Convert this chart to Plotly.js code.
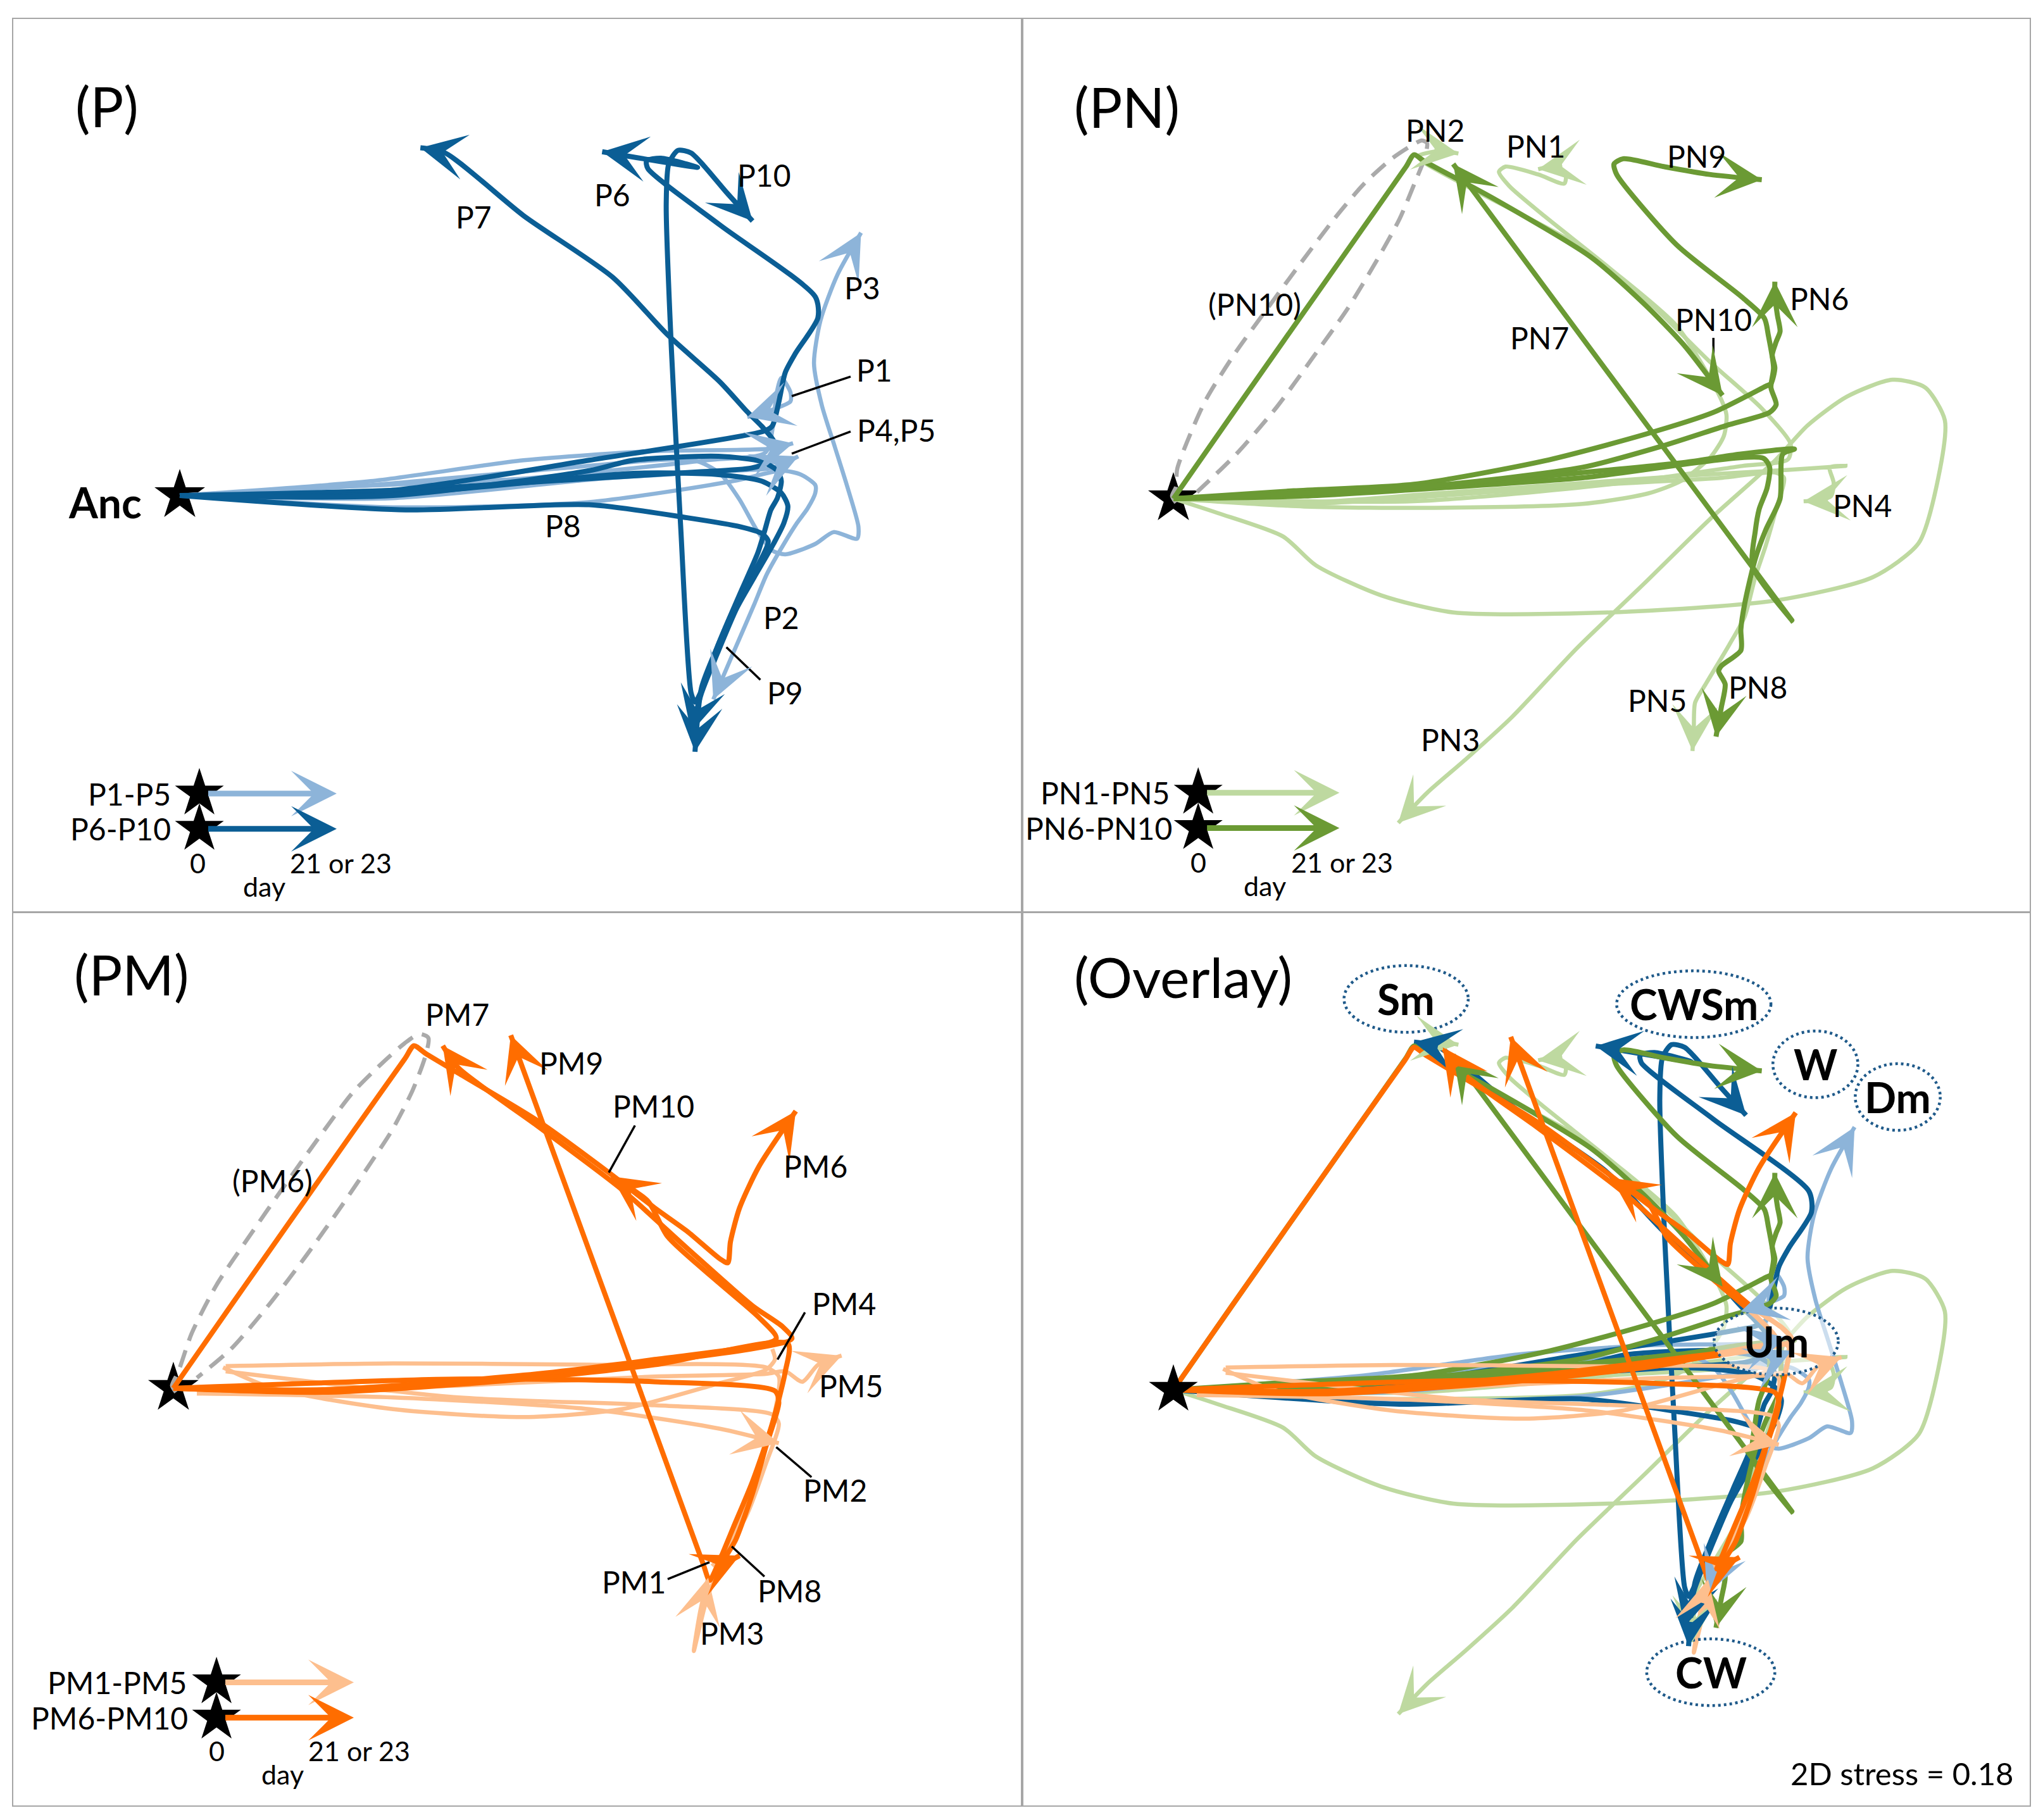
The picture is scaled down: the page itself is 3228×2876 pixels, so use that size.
<!DOCTYPE html>
<html><head><meta charset="utf-8">
<script src="https://cdn.plot.ly/plotly-3.0.1.min.js"></script>
<style>html,body{margin:0;padding:0;background:#fff}#chart{width:3228px;height:2876px}</style>
</head><body><div id="chart"></div>
<script>
// ---------- DATA: NMDS trajectories (relative to ancestor, arbitrary units) ----------
const P1 = [[0,0],[106,6],[263,13],[403,27],[448,33],[454,56],[456,76],[460,90],[467,79],[467,72],[454,66],[434,60]];
const P2 = [[0,0],[163,-9],[313,-5],[423,11],[460,19],[475,16],[486,8],[486,2],[480,-10],[472,-21],[462,-37],[449,-60],[439,-84],[423,-121],[408,-156]];
const P3 = [[0,0],[146,8],[293,21],[393,27],[413,17],[428,-3],[441,-26],[453,-42],[463,-45],[486,-37],[500,-28],[518,-33],[519,-24],[511,5],[501,37],[491,69],[485,101],[490,134],[503,169],[521,201]];
const P4 = [[0,0],[146,11],[263,27],[363,34],[453,36],[469,40]];
const P5 = [[0,0],[163,-2],[323,13],[423,19],[453,21],[473,30]];
const P6 = [[0,0],[163,4],[313,27],[446,49],[453,53],[458,71],[463,94],[471,109],[488,136],[486,152],[413,207],[358,250],[357,256],[368,258],[396,251],[323,263]];
const P7 = [[0,0],[163,4],[313,13],[396,18],[437,21],[452,26],[455,32],[454,42],[445,53],[434,64],[413,87],[373,123],[331,167],[263,214],[203,262],[184,266]];
const P8 = [[0,0],[173,-11],[313,-7],[388,-17],[429,-24],[445,-29],[450,-35],[438,-61],[424,-86],[411,-116],[399,-147],[394,-196]];
const P9 = [[0,0],[163,1],[347,17],[412,16],[445,11],[460,2],[465,-8],[462,-21],[454,-37],[439,-63],[426,-86],[411,-121],[399,-151],[391,-181]];
const P10 = [[0,0],[163,0],[313,19],[347,27],[412,30],[445,26],[457,19],[460,11],[457,-2],[452,-11],[447,-28],[442,-44],[428,-76],[411,-116],[399,-149],[394,-158],[391,-151],[383,-23],[376,111],[372,223],[374,254],[381,264],[391,262],[401,252],[418,232],[438,210]];

const PN1 = [[0,0],[100,-6],[200,-7],[313,-4],[363,4],[389,14],[411,32],[421,48],[423,64],[417,80],[385,132],[334,176],[284,216],[257,239],[249,250],[254,254],[279,248],[299,241],[300,248],[292,254],[279,252]];
const PN2 = [[0,0],[184,-2],[334,11],[435,25],[470,30],[472,42],[450,69],[410,105],[365,149],[309,194],[234,234],[192,257],[187,262],[204,266],[218,264]];
const PN3 = [[0,0],[34,-11],[84,-29],[109,-51],[159,-74],[214,-87],[334,-87],[460,-78],[535,-60],[570,-34],[585,16],[590,60],[575,85],[550,91],[515,78],[485,56],[460,29],[410,-16],[360,-65],[309,-114],[259,-167],[224,-199],[194,-225],[172,-248]];
const PN4 = [[0,0],[100,-3],[200,4],[313,12],[400,18],[470,22],[514,25],[502,24],[505,12],[503,2],[495,-1],[482,-2]];
const PN5 = [[0,0],[100,-4],[200,2],[313,10],[420,16],[460,20],[467,16],[461,-8],[453,-36],[445,-60],[437,-90],[425,-112],[407,-142],[399,-156],[398,-176],[397,-193]];
const PN6 = [[0,0],[92,6],[184,11],[284,29],[360,49],[413,66],[453,86],[457,88],[460,100],[458,110],[461,120],[464,128],[462,140],[460,155],[460,166]];
const PN7 = [[0,0],[100,2],[200,8],[313,16],[451,31],[456,24],[454,8],[448,-8],[445,-25],[443,-52],[473,-93],[214,256]];
const PN8 = [[0,0],[100,4],[200,10],[313,20],[393,28],[433,34],[475,38],[466,34],[464,0],[453,-24],[445,-46],[437,-80],[434,-100],[434,-116],[419,-128],[417,-132],[422,-142],[419,-160],[415,-182]];
const PN9 = [[0,0],[100,4],[200,10],[313,24],[373,40],[423,56],[456,66],[461,72],[457,85],[459,100],[455,125],[452,138],[435,154],[385,194],[339,248],[337,256],[344,260],[375,254],[410,248],[450,244]];
const PN10 = [[0,0],[46,66],[138,197],[178,254],[184,263],[192,258],[244,230],[319,185],[360,149],[390,118],[420,79]];
const PN10_implied = [[2,-3],[-1,2],[2,9],[3,23],[24,74],[47,111],[73,147],[98,181],[123,214],[146,241],[167,260],[182,270],[190,274],[194,272],[192,260],[186,245],[173,214],[156,183],[133,145],[106,107],[79,70],[48,34],[18,5]];

const PM1 = [[40,13],[218,-7],[368,-13],[458,-20],[463,-27],[453,-58],[438,-98],[418,-129],[412,-136]];
const PM2 = [[18,-4],[168,-7],[318,-16],[418,-31],[463,-42]];
const PM3 = [[40,17],[168,19],[318,18],[453,16],[463,9],[460,-18],[448,-58],[428,-112],[408,-161],[398,-201],[403,-170],[409,-145]];
const PM4 = [[38,16],[76,0],[168,-16],[268,-22],[343,-16],[418,4],[453,14],[460,22],[458,30]];
const PM5 = [[18,-4],[218,2],[368,9],[453,11],[468,13],[481,5],[493,18],[511,25]];
const PM6 = [[0,0],[46,66],[138,197],[177,252],[184,262],[193,256],[218,241],[278,205],[333,165],[368,138],[393,120],[418,99],[424,96],[426,112],[433,138],[448,170],[476,212]];
const PM7 = [[0,0],[118,-2],[268,9],[368,20],[473,38],[466,47],[443,63],[393,107],[343,152],[278,201],[218,245],[206,262]];
const PM8 = [[0,0],[218,7],[368,5],[460,-2],[463,-11],[453,-45],[443,-80],[430,-116],[420,-134],[433,-128]];
const PM9 = [[0,0],[118,-3],[268,7],[368,18],[470,34],[468,13],[458,-27],[443,-71],[428,-107],[415,-138],[410,-147],[405,-134],[258,270]];
const PM10 = [[0,0],[118,-1],[268,10],[368,22],[461,38],[448,54],[418,80],[378,116],[363,143],[335,162]];
const PM6_implied = [[2,-3],[-1,2],[2,9],[5,16],[14,42],[33,79],[60,119],[85,155],[110,190],[137,226],[160,249],[177,264],[188,271],[195,268],[193,255],[183,228],[167,197],[152,174],[129,140],[102,102],[74,65],[45,31],[18,8]];

const P_NAMES = ['P1','P2','P3','P4','P5','P6','P7','P8','P9','P10'];
const PN_NAMES = ['PN1','PN2','PN3','PN4','PN5','PN6','PN7','PN8','PN9','PN10'];
const PM_NAMES = ['PM1','PM2','PM3','PM4','PM5','PM6','PM7','PM8','PM9','PM10'];
const LEGEND_TEXT = {P:['P1-P5','P6-P10'], PN:['PN1-PN5','PN6-PN10'], PM:['PM1-PM5','PM6-PM10']};
const STATES = ['Sm','CWSm','W','Dm','Um','CW'];
const STRESS = 0.18;

// ---------- STYLE / LAYOUT ----------
const FONT = 'Lato, "Noto Sans", "DejaVu Sans", sans-serif';
const SERIES = {
  P:  {light:[P1,P2,P3,P4,P5],      dark:[P6,P7,P8,P9,P10],      cl:'#8db4d9', cd:'#0b5e95'},
  PN: {light:[PN1,PN2,PN3,PN4,PN5], dark:[PN6,PN7,PN8,PN9,PN10], cl:'#bed9a0', cd:'#6b9a34'},
  PM: {light:[PM1,PM2,PM3,PM4,PM5], dark:[PM6,PM7,PM8,PM9,PM10], cl:'#fdbf8e', cd:'#ff6d00'}
};
const LW_L = 6.5, LW_D = 8, HEAD = 12;

const traces = [], annotations = [], shapes = [];

function addLine(pts, axn, color, width, dash){
  traces.push({type:'scatter', mode:'lines', x:pts.map(p=>p[0]), y:pts.map(p=>p[1]),
    xaxis:'x'+axn, yaxis:'y'+axn, hoverinfo:'skip',
    line:{color:color, width:width, shape:'spline', smoothing:0.7, dash:dash||'solid'}});
}
function addArrow(pts, axn, color, width){
  const n = pts.length, a = pts[n-2], b = pts[n-1];
  const dx = b[0]-a[0], dy = b[1]-a[1], L = Math.hypot(dx,dy), t = Math.min(L,12)/L;
  annotations.push({x:b[0], y:b[1], ax:b[0]-dx*t, ay:b[1]-dy*t,
    xref:'x'+axn, yref:'y'+axn, axref:'x'+axn, ayref:'y'+axn,
    text:'', showarrow:true, arrowhead:3, arrowsize:HEAD/width, arrowwidth:width,
    arrowcolor:color, standoff:0});
}
function addTraj(pts, axn, color, width){ addLine(pts, axn, color, width); addArrow(pts, axn, color, width); }
function addStar(axn, x, y, size){
  traces.push({type:'scatter', mode:'markers', x:[x], y:[y], xaxis:'x'+axn, yaxis:'y'+axn,
    hoverinfo:'skip', marker:{symbol:'star', size:size, color:'#000', line:{width:0}}});
}
function addText(s, x, y, axn, size, opt){
  opt = opt || {};
  annotations.push({x:x, y:y, xref:'x'+axn, yref:'y'+axn, text:s, showarrow:false,
    xanchor:opt.xanchor||'center', yanchor:'middle',
    font:{family:FONT, size:size, color:'#000', weight:opt.bold?'bold':'normal'}});
}
function addLeader(x0,y0,x1,y1,axn){
  shapes.push({type:'line', xref:'x'+axn, yref:'y'+axn, x0:x0, y0:y0, x1:x1, y1:y1,
    line:{color:'#000', width:3.5}});
}
function addLegend(key, axn, sx, tip, y1, y2, labX, yText, x0, x21){
  const s = SERIES[key];
  [[y1,s.cl],[y2,s.cd]].forEach(([yy,c],i)=>{
    annotations.push({x:tip, y:yy, ax:sx+6, ay:yy, xref:'x'+axn, yref:'y'+axn, axref:'x'+axn, ayref:'y'+axn,
      text:'', showarrow:true, arrowhead:3, arrowsize:HEAD/9, arrowwidth:9, arrowcolor:c, standoff:0});
    addText(LEGEND_TEXT[key][i], labX[i], yy, axn, 48, {xanchor:'right'});
  });
  addStar(axn, sx, y1, 58); addStar(axn, sx, y2, 58);
  addText('0', x0, yText, axn, 43);
  addText('21 or 23', x21, yText, axn, 43);
  addText('day', (x0+x21)/2 - 4, yText-18, axn, 43);
}
function drawGroup(key, axn, which){
  const s = SERIES[key];
  if(which!=='dark') s.light.forEach(p=>addTraj(p, axn, s.cl, LW_L));
  if(which!=='light') s.dark.forEach(p=>addTraj(p, axn, s.cd, LW_D));
}
const DASH = {color:'#aaaaaa', width:6.5, dash:'28px,16px'};

// ----- Panel P (axis '') -----
addStar('', 0, 0, 60);
drawGroup('P','');
addText('(P)', -81, 298, '', 88, {xanchor:'left'});
addText('Anc', -57, -5, '', 66, {bold:true});
[['P7',225,213],['P6',331,230],['P10',447,245],['P3',522,159],['P1',531,96],['P4,P5',548,50],
 ['P8',293,-23],['P2',460,-93],['P9',463,-151]].forEach(l=>addText(l[0],l[1],l[2],'',48));
addLeader(468,76,513,91,''); addLeader(468,32,513,49,''); addLeader(418,-116,444,-141,'');
addLegend('P','',15,120,-228,-255,[-6,-6],-281,14,123);

// ----- Panel PN (axis '2') -----
addStar('2', 0, 0, 60);
addLine(PN10_implied, '2', DASH.color, DASH.width, DASH.dash);
drawGroup('PN','2');
addText('(PN)', -77, 300, '2', 88, {xanchor:'left'});
[['PN2',200,282],['PN1',277,270],['PN9',400,262],['(PN10)',62,149],['PN7',280,123],['PN10',413,137],
 ['PN6',494,153],['PN4',527,-5],['PN5',370,-154],['PN8',447,-144],['PN3',212,-184]].forEach(l=>addText(l[0],l[1],l[2],'2',48));
addLeader(413,123,413,94,'2');
addLegend('PN','2',19,127,-225,-252,[-2,0],-278,19,129);

// ----- Panel PM (axis '3') -----
addStar('3', 0, 0, 60);
addLine(PM6_implied, '3', DASH.color, DASH.width, DASH.dash);
drawGroup('PM','3');
addText('(PM)', -77, 317, '3', 88, {xanchor:'left'});
[['PM7',217,286],['PM9',304,249],['PM10',367,216],['PM6',491,170],['(PM6)',76,159],['PM4',513,65],
 ['PM5',518,2],['PM2',506,-78],['PM1',352,-148],['PM8',471,-155],['PM3',427,-187]].forEach(l=>addText(l[0],l[1],l[2],'3',48));
addLeader(353,201,333,165,'3'); addLeader(483,58,462,22,'3'); addLeader(488,-68,461,-45,'3');
addLeader(378,-146,410,-133,'3'); addLeader(427,-121,452,-144,'3');
addLegend('PM','3',33,138,-225,-252,[11,12],-277,33,142);

// ----- Overlay (axis '4') -----
drawGroup('PN','4','light');
drawGroup('P','4','light');
drawGroup('P','4','dark');
drawGroup('PN','4','dark');
drawGroup('PM','4','light');
drawGroup('PM','4','dark');
addStar('4', 0, 0, 58);
addText('(Overlay)', -77, 316, '4', 88, {xanchor:'left'});
const ELL = {Sm:[178,299,95], CWSm:[398,295,118], W:[491,249,65], Dm:[554,224,65], Um:[461,37,95], CW:[411,-216,98]};
STATES.forEach(k=>{
  const e = ELL[k];
  shapes.push({type:'circle', xref:'x4', yref:'y4', x0:e[0]-e[2]/2, x1:e[0]+e[2]/2, y0:e[1]-25.5, y1:e[1]+25.5,
    line:{color:'#1f5a8a', width:4.5, dash:'4px,5px'}, fillcolor: k==='Um' ? 'rgba(255,255,255,0.55)' : 'rgba(0,0,0,0)', layer:'above'});
  addText(k, e[0], e[1], '4', 66, {bold:true});
});
addText('2D stress = ' + STRESS.toFixed(2), 557, -293, '4', 49);

// ---------- AXES ----------
function axis(domain, range, anchor){
  return {domain:domain, range:range, anchor:anchor, showgrid:false, zeroline:false, showticklabels:false,
    ticks:'', showline:true, mirror:true, linecolor:'#a6a6a6', linewidth:2, fixedrange:true};
}
const XL=[0.00651,0.49969], XR=[0.50093,0.99349], YT=[0.49930,0.98957], YB=[0.0080,0.49826];
const layout = {
  width:3228, height:2876, margin:{l:0,r:0,t:0,b:0}, paper_bgcolor:'#fff', plot_bgcolor:'#fff',
  showlegend:false, font:{family:FONT},
  xaxis: axis(XL,[-127.3,643.2],'y'),  yaxis: axis(YT,[-318,364.5],'x'),
  xaxis2:axis(XR,[-114.7,654.9],'y2'), yaxis2:axis(YT,[-315.6,366.9],'x2'),
  xaxis3:axis(XL,[-122.4,648.1],'y3'), yaxis3:axis(YB,[-319.1,363.4],'x3'),
  xaxis4:axis(XR,[-114.7,654.9],'y4'), yaxis4:axis(YB,[-317.9,364.6],'x4'),
  annotations:annotations, shapes:shapes
};
Plotly.newPlot('chart', traces, layout, {staticPlot:true, displayModeBar:false});
</script></body></html>
